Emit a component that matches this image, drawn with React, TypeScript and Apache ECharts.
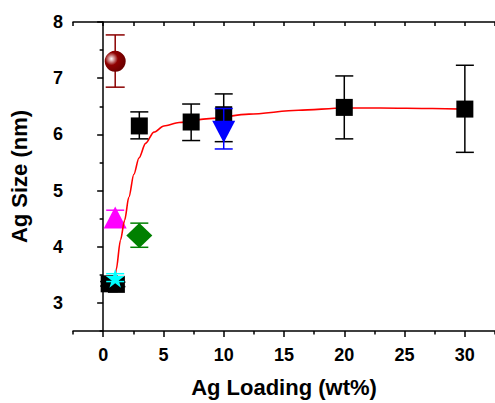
import React, { useEffect, useRef } from "react";
import * as echarts from "echarts";

// ---- data ----
const xMajorTicks = [0, 5, 10, 15, 20, 25, 30];
const xMinorTicks = [-2.5, 2.5, 7.5, 12.5, 17.5, 22.5, 27.5, 32.5];
const xAllTicks = [-2.5, 0, 2.5, 5, 7.5, 10, 12.5, 15, 17.5, 20, 22.5, 25, 27.5, 30, 32.5];
const yMajorTicks = [3, 4, 5, 6, 7, 8];
const yMinorTicks = [2.5, 3.5, 4.5, 5.5, 6.5, 7.5];

// [x, y, low, high]
const blackSquares = [
  [0.5, 3.34, 3.3, 3.38],
  [1.1, 3.33, 3.29, 3.37],
  [3.0, 6.15, 5.92, 6.4],
  [7.3, 6.22, 5.89, 6.54],
  [10.0, 6.35, 5.87, 6.72],
  [20.0, 6.48, 5.92, 7.04],
  [30.0, 6.45, 5.68, 7.23],
];
const redSphere = [[1.0, 7.3, 6.84, 7.77]];
const blueTriangle = [[10.0, 6.1, 5.74, 6.46]];
const magentaTriangle = [[1.0, 4.52, 4.38, 4.65]];
const greenDiamond = [[3.0, 4.2, 3.99, 4.42]];
const cyanStar = [[1.0, 3.44, 3.38, 3.52]];

const curveX = [1.0, 1.08, 1.44, 1.78, 2.13, 2.55, 2.97, 3.52, 4.21, 5.04, 6.3, 8.8, 12.1, 16.2, 20, 23, 27.3, 30];
const curveY = [3.45, 3.59, 4.12, 4.47, 4.88, 5.29, 5.58, 5.84, 6.04, 6.15, 6.21, 6.28, 6.36, 6.43, 6.47, 6.47, 6.46, 6.45];

const FONT = "'Liberation Sans', Arial, sans-serif";
const STAR = "path://M50,0 L61,35 L98,35 L68,57 L79,91 L50,70 L21,91 L32,57 L2,35 L39,35 Z";

function errorSeries(data: number[][], color: string, z: number, capHalf = 9) {
  return {
    type: "custom",
    xAxisIndex: 0,
    yAxisIndex: 0,
    z,
    silent: true,
    data: data.map((d) => [d[0], d[2], d[3]]),
    encode: { x: 0, y: [1, 2] },
    renderItem: (_params: any, api: any) => {
      const x = api.value(0);
      const lo = api.coord([x, api.value(1)]);
      const hi = api.coord([x, api.value(2)]);
      const style = { stroke: color, lineWidth: 1.5, fill: "none" };
      return {
        type: "group",
        children: [
          { type: "line", shape: { x1: hi[0], y1: hi[1], x2: lo[0], y2: lo[1] }, style },
          { type: "line", shape: { x1: hi[0] - capHalf, y1: hi[1], x2: hi[0] + capHalf, y2: hi[1] }, style },
          { type: "line", shape: { x1: lo[0] - capHalf, y1: lo[1], x2: lo[0] + capHalf, y2: lo[1] }, style },
        ],
      };
    },
  };
}

function scatterSeries(data: number[][], extra: any, z: number) {
  return {
    type: "scatter",
    xAxisIndex: 0,
    yAxisIndex: 0,
    z,
    silent: true,
    data: data.map((d) => [d[0], d[1]]),
    ...extra,
  };
}

export default function App() {
  const ref = useRef<HTMLDivElement>(null);
  useEffect(() => {
    if (!ref.current) return;
    const chart = echarts.init(ref.current, null, { renderer: "svg" });
    const axisLine = { show: true, lineStyle: { color: "#000", width: 1.5 } };
    const labelStyle = { fontSize: 18, fontWeight: "bold", fontFamily: FONT, color: "#000" };
    const sphere = new echarts.graphic.RadialGradient(0.32, 0.38, 0.68, [
      { offset: 0, color: "#ffffff" },
      { offset: 0.18, color: "#d79a9a" },
      { offset: 0.45, color: "#900000" },
      { offset: 1, color: "#6a0000" },
    ]);
    chart.setOption({
      animation: false,
      backgroundColor: "#fff",
      grid: { left: 73, right: 0, top: 22, bottom: 67, containLabel: false },
      xAxis: [
        {
          type: "value",
          min: -2.5,
          max: 32.5,
          position: "bottom",
          axisLine,
          axisTick: { show: true, length: 6, customValues: xMajorTicks, lineStyle: { color: "#000", width: 1.5 } },
          axisLabel: { ...labelStyle, customValues: xMajorTicks, margin: 15 },
          splitLine: { show: false },
          name: "Ag Loading (wt%)",
          nameLocation: "middle",
          nameGap: 45,
          nameTextStyle: { fontSize: 22, fontWeight: "bold", fontFamily: FONT, color: "#000" },
        },
        {
          type: "value",
          min: -2.5,
          max: 32.5,
          position: "bottom",
          axisLine: { show: false },
          axisTick: { show: true, length: 3.5, customValues: xMinorTicks, lineStyle: { color: "#000", width: 1.5 } },
          axisLabel: { show: false },
          splitLine: { show: false },
        },
        {
          type: "value",
          min: -2.5,
          max: 32.5,
          position: "top",
          axisLine,
          axisTick: { show: true, inside: true, length: 4, customValues: xAllTicks, lineStyle: { color: "#000", width: 1.5 } },
          axisLabel: { show: false },
          splitLine: { show: false },
        },
      ],
      yAxis: [
        {
          type: "value",
          min: 2.5,
          max: 8,
          position: "left",
          axisLine,
          axisTick: { show: true, length: 6, customValues: yMajorTicks, lineStyle: { color: "#000", width: 1.5 } },
          axisLabel: { ...labelStyle, customValues: yMajorTicks, margin: 10 },
          splitLine: { show: false },
          name: "Ag Size (nm)",
          nameLocation: "middle",
          nameGap: 43,
          nameTextStyle: { fontSize: 22, fontWeight: "bold", fontFamily: FONT, color: "#000" },
        },
        {
          type: "value",
          min: 2.5,
          max: 8,
          position: "left",
          axisLine: { show: false },
          axisTick: { show: true, length: 3.5, customValues: yMinorTicks, lineStyle: { color: "#000", width: 1.5 } },
          axisLabel: { show: false },
          splitLine: { show: false },
        },
      ],
      series: [
        errorSeries(magentaTriangle, "#ff00ff", 2),
        scatterSeries(magentaTriangle, { symbol: "triangle", symbolSize: [23, 22], itemStyle: { color: "#ff00ff", opacity: 1 } }, 3),
        errorSeries(greenDiamond, "#008000", 4),
        scatterSeries(greenDiamond, { symbol: "diamond", symbolSize: [26, 25], itemStyle: { color: "#008000", opacity: 1 } }, 5),
        {
          type: "line",
          xAxisIndex: 0,
          yAxisIndex: 0,
          z: 6,
          silent: true,
          data: curveX.map((x, i) => [x, curveY[i]]),
          smooth: 0.3,
          smoothMonotone: "x",
          showSymbol: false,
          symbol: "none",
          lineStyle: { color: "#ff0000", width: 1.6 },
        },
        errorSeries(blackSquares, "#000", 7),
        scatterSeries(blackSquares, { symbol: "rect", symbolSize: 17, itemStyle: { color: "#000", opacity: 1 } }, 8),
        errorSeries(blueTriangle, "#0000ff", 9),
        scatterSeries(blueTriangle, { symbol: "triangle", symbolRotate: 180, symbolSize: [23, 22], symbolOffset: [0, 3], itemStyle: { color: "#0000ff", opacity: 1 } }, 10),
        errorSeries(redSphere, "#8b0000", 11, 9.5),
        scatterSeries(redSphere, { symbol: "circle", symbolSize: 21, itemStyle: { color: sphere, opacity: 1 } }, 12),
        errorSeries(cyanStar, "#00ffff", 13),
        scatterSeries(cyanStar, { symbol: STAR, symbolSize: [19, 19], itemStyle: { color: "#00ffff", opacity: 1 } }, 14),
      ],
    });
    return () => chart.dispose();
  }, []);
  return <div ref={ref} style={{ position: "fixed", left: 0, top: 0, width: 495, height: 403 }} />;
}
